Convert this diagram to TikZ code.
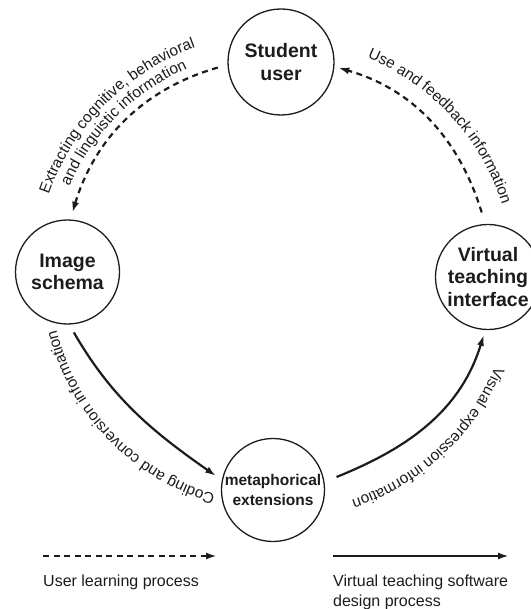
\documentclass[tikz,border=0pt]{standalone}
\usepackage{fontspec}
\setmainfont{Liberation Sans}
\usetikzlibrary{arrows.meta,decorations.text}
\definecolor{ink}{RGB}{28,28,28}
\newcommand{\rsNodeFont}{\bfseries\fontsize{19.5}{22.5}\selectfont}
\newcommand{\rsMetaFont}{\bfseries\fontsize{15.5}{19.5}\selectfont}
\newcommand{\rsLabFont}{\fontsize{15.5}{18}\selectfont}
\newcommand{\rsLegFont}{\fontsize{16}{20}\selectfont}
\begin{document}
\begin{tikzpicture}[x=1pt,y=1pt,
  place/.style={circle, draw=ink, line width=1.3pt, inner sep=0pt, align=center, text=ink},
  dasharrow/.style={draw=ink, line width=2.2pt, dash pattern=on 6pt off 4.5pt, -{Latex[length=11pt,width=7pt]}},
  solidarrow/.style={draw=ink, line width=2.2pt, -{Latex[length=11pt,width=7pt]}},
  arclabel/.style={decorate, decoration={text along path, text align=center, text color=ink}}
]
\useasboundingbox (0,0) rectangle (530,-609);
\coordinate (C) at (277,-276);

% nodes
\node[place, minimum size=106pt, font=\rsNodeFont] (student) at (281,-62) {Student\\user};
\node[place, minimum size=104pt, font=\rsNodeFont] (image) at (67.5,-272) {Image\\schema};
\node[place, minimum size=105pt, font=\rsNodeFont] (virtual) at (488,-277) {Virtual\\teaching\\interface};
\node[place, minimum size=103pt, font=\rsMetaFont] (meta) at (273,-490) {metaphorical\\extensions};

% connectors
\draw[dasharrow, shorten <=10pt, shorten >=7pt] (student.183) to[out=196,in=73] (image.87);
\draw[dasharrow, shorten <=12pt, shorten >=4pt] (virtual.93) to[out=107,in=-16] (student.-5);
\draw[solidarrow, shorten <=9pt, shorten >=7pt] (image.-88) to[out=-60,in=145] (meta.169);
\draw[solidarrow, shorten <=13pt, shorten >=5pt] (meta.9) to[out=22,in=-107] (virtual.267);

% arc labels
\path[arclabel, decoration={text={|\rsLabFont|Extracting cognitive, behavioral}}]
  ([shift={(175:242.5)}]C) arc[start angle=175, end angle=95, radius=242.5];
\path[arclabel, decoration={text={|\rsLabFont|and linguistic information}}]
  ([shift={(175:226)}]C) arc[start angle=175, end angle=95, radius=226];
\path[arclabel, decoration={text={|\rsLabFont|Use and feedback information}}]
  ([shift={(80:236)}]C) arc[start angle=80, end angle=5, radius=236];
\path[arclabel, decoration={text={|\rsLabFont|Coding and conversion information}}]
  ([shift={(264:227)}]C) arc[start angle=264, end angle=184, radius=227];
\path[arclabel, decoration={text={|\rsLabFont|Visual expression information}}]
  ([shift={(-7:236)}]C) arc[start angle=-7, end angle=-87, radius=236];

% legend
\coordinate (lds) at (43,-556);
\coordinate (lde) at (217,-556);
\draw[dasharrow] (lds) -- (lde);
\coordinate (lss) at (333,-556);
\coordinate (lse) at (509,-556);
\draw[solidarrow] (lss) -- (lse);
\node[anchor=base west, inner sep=0pt, font=\rsLegFont, text=ink] (leg1) at (43,-586) {User learning process};
\node[anchor=north west, inner sep=0pt, align=left, font=\rsLegFont, text=ink] (leg2) at (333,-574.5) {Virtual teaching software\\design process};
\end{tikzpicture}
\end{document}
